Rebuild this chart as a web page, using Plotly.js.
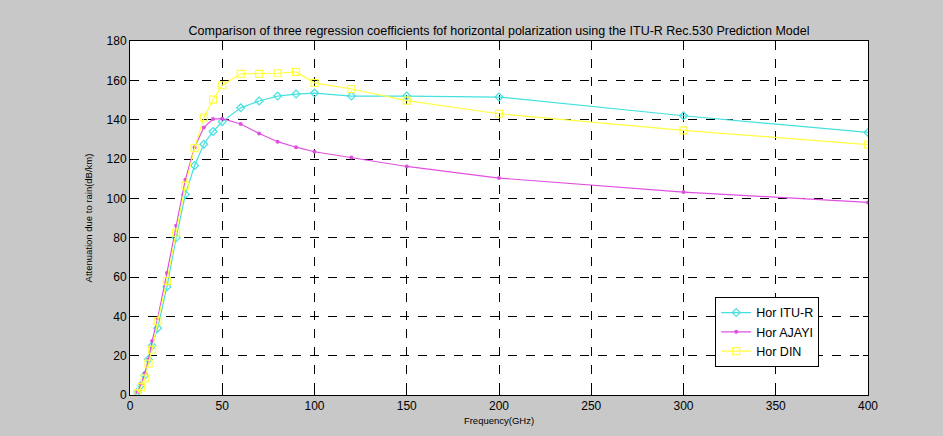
<!DOCTYPE html>
<html>
<head>
<meta charset="utf-8">
<script src="https://cdn.plot.ly/plotly-3.0.1.min.js"></script>
<style>html,body{margin:0;padding:0;background:#c8c8c8;}#chart{width:943px;height:436px;}</style>
</head>
<body>
<div id="chart"></div>
<script>
const freq = [4, 6, 8, 10, 12, 15, 20, 25, 30, 35, 40, 45, 50, 60, 70, 80, 90, 100, 120, 150, 200, 300, 400];
const ituR = [1.5, 5, 10, 18, 25, 34, 55, 80, 102, 116.7, 127.5, 134, 139, 146, 149.5, 152, 153, 153.5, 152, 152, 151.5, 142, 133.5];
const ajayi = [1.5, 5.5, 11, 18, 27.5, 39, 62, 86, 109.5, 126, 136, 140.3, 140.5, 137.8, 133, 128.8, 126, 123.7, 120.8, 116.2, 110.3, 103.2, 97.9];
const din = [0.8, 4, 8.5, 16, 23, 37.5, 58, 82.5, 106.5, 125.5, 141, 150.2, 157.5, 163.3, 163.3, 163.6, 164.3, 158.7, 155.6, 149.7, 143, 134.6, 127.3];
const seriesNames = ['Hor ITU-R', 'Hor AJAYI', 'Hor DIN'];

const font = 'Liberation Sans, Arial, sans-serif';
const traces = [
  {x: freq, y: ituR, name: seriesNames[0], mode: 'lines+markers',
   line: {color: '#45e0e0', width: 1.2},
   marker: {symbol: 'diamond-open', size: 6, color: '#45e0e0', line: {width: 1.2}}},
  {x: freq, y: ajayi, name: seriesNames[1], mode: 'lines+markers',
   line: {color: '#e050e0', width: 1.2},
   marker: {symbol: 'circle', size: 4, color: '#e050e0'}},
  {x: freq, y: din, name: seriesNames[2], mode: 'lines+markers',
   line: {color: '#ffff40', width: 1.2},
   marker: {symbol: 'square-open', size: 7, color: '#ffff40', line: {width: 1.2}}}
];

const axisCommon = {
  showline: true, linecolor: '#000', linewidth: 1, mirror: 'ticks',
  ticks: 'inside', ticklen: 5, tickcolor: '#000',
  showgrid: true, gridcolor: '#000', gridwidth: 1, griddash: 'dash',
  zeroline: false, tickfont: {family: font, size: 12, color: '#000'}
};

const layout = {
  width: 943, height: 436,
  paper_bgcolor: '#c8c8c8', plot_bgcolor: '#ffffff',
  margin: {l: 130, r: 75, t: 41, b: 41},
  title: {text: 'Comparison of three regression coefficients fof horizontal polarization using the ITU-R Rec.530 Prediction Model',
          font: {family: font, size: 12.5, color: '#000'}, x: 0.5292, xanchor: 'center', y: 0.93, yanchor: 'middle'},
  xaxis: Object.assign({}, axisCommon, {range: [0, 400], dtick: 50,
          title: {text: 'Frequency(GHz)', font: {family: font, size: 9.5, color: '#000'}, standoff: 4}}),
  yaxis: Object.assign({}, axisCommon, {range: [0, 180], dtick: 20,
          title: {text: 'Attenuation due to rain(dB/km)', font: {family: font, size: 9.5, color: '#000'}, standoff: 12}}),
  showlegend: true,
  legend: {x: 0.793, y: 0.277, xanchor: 'left', yanchor: 'top', bgcolor: '#ffffff', bordercolor: '#000', borderwidth: 1,
           font: {family: font, size: 12.5, color: '#000'}, tracegroupgap: 0, itemwidth: 30}
};

Plotly.newPlot('chart', traces, layout, {displayModeBar: false, staticPlot: true});
</script>
</body>
</html>
